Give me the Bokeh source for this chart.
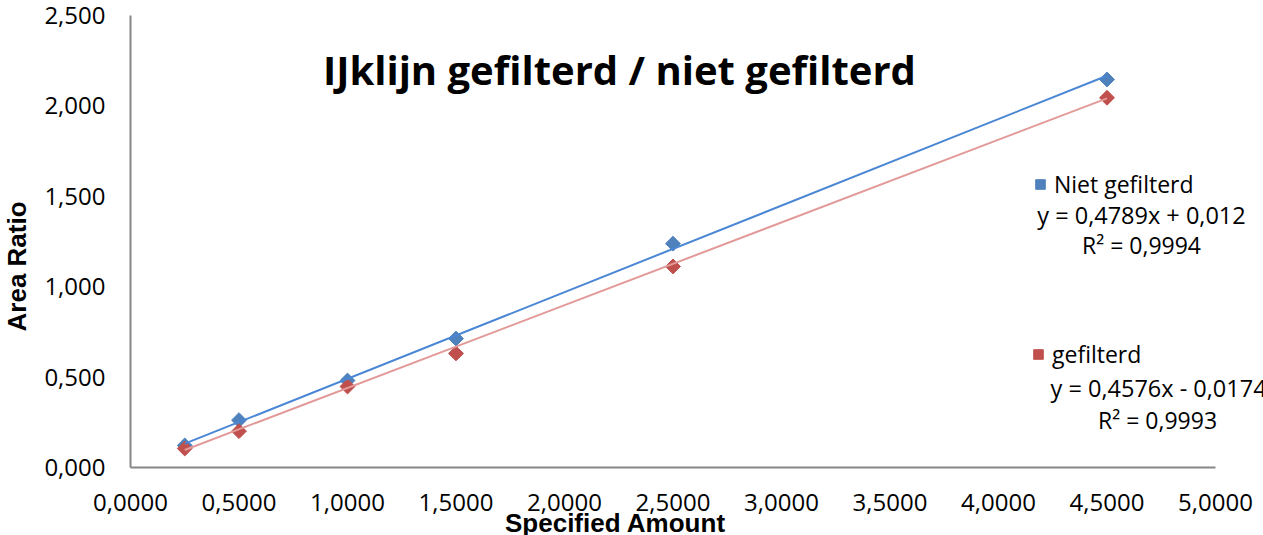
import math
from bokeh.plotting import figure
from bokeh.models import (FixedTicker, CustomJSTickFormatter, Label, Legend,
                          LegendItem, Range1d)
from bokeh.embed import file_html
from bokeh.resources import INLINE

# ---- data ----
amount = [0.25, 0.5, 1.0, 1.5, 2.5, 4.5]
niet_gefilterd = [0.122, 0.262, 0.481, 0.713, 1.238, 2.146]
gefilterd = [0.105, 0.201, 0.448, 0.631, 1.112, 2.045]

series_names = ["Niet gefilterd", "gefilterd"]
slopes = [0.4789, 0.4576]
intercepts = [0.012, -0.0174]
eq_texts = ["y = 0,4789x + 0,012", "y = 0,4576x - 0,0174"]
r2_texts = ["R² = 0,9994", "R² = 0,9993"]

x_ticks = [0.0, 0.5, 1.0, 1.5, 2.0, 2.5, 3.0, 3.5, 4.0, 4.5, 5.0]
y_ticks = [0.0, 0.5, 1.0, 1.5, 2.0, 2.5]

title_text = "IJklijn gefilterd / niet gefilterd"
x_title = "Specified Amount"
y_title = "Area Ratio"

marker_colors = ["#4F81BD", "#C0504D"]
line_colors = ["#4A86D4", "#E29A99"]
FONT = "Open Sans"

W, H = 1263, 535
X0_PX, Y0_PX = 130, 467   # pixel position of the data origin
PX_X = 217.0              # pixels per x unit
PX_Y = 180.8              # pixels per y unit

p = figure(width=W, height=H,
           x_range=Range1d(-X0_PX / PX_X, (W - X0_PX) / PX_X),
           y_range=Range1d(-(H - Y0_PX) / PX_Y, Y0_PX / PX_Y),
           output_backend="svg", toolbar_location=None,
           min_border_left=0, min_border_right=0, min_border_top=0,
           min_border_bottom=0)
p.outline_line_color = None
p.xgrid.visible = False
p.ygrid.visible = False
p.background_fill_color = "white"
p.border_fill_color = "white"

for ax, ticks, nd, bnds in ((p.xaxis[0], x_ticks, 4, (0, 5)),
                            (p.yaxis[0], y_ticks, 3, (0, 2.5))):
    ax.ticker = FixedTicker(ticks=ticks)
    ax.formatter = CustomJSTickFormatter(
        code="return tick.toFixed(%d).replace('.', ',');" % nd)
    ax.bounds = bnds
    ax.fixed_location = 0
    ax.axis_line_color = "#868686"
    ax.axis_line_width = 2
    ax.major_tick_line_color = None
    ax.minor_tick_line_color = None
    ax.major_tick_out = 0
    ax.major_tick_in = 0
    ax.major_label_text_font = FONT
    ax.major_label_text_font_size = "24px"
    ax.major_label_text_color = "black"
p.xaxis[0].major_label_standoff = 26
p.yaxis[0].major_label_standoff = 25

all_y = [niet_gefilterd, gefilterd]
x_fit = [min(amount), max(amount)]
scatters = []
for i in range(2):
    r = p.scatter(amount, all_y[i], marker="square", size=10.5, angle=math.pi / 4,
                  fill_color=marker_colors[i], line_color=marker_colors[i])
    scatters.append(r)
for i in range(2):
    y_fit = [slopes[i] * xv + intercepts[i] for xv in x_fit]
    p.line(x_fit, y_fit, line_color=line_colors[i], line_width=2)

# legends (one per series, as in the reference)
leg_locs = [(1028, 335), (1026, 165)]
for i in range(2):
    leg = Legend(items=[LegendItem(label=series_names[i], renderers=[scatters[i]])],
                 location=leg_locs[i], border_line_color=None,
                 background_fill_alpha=0, padding=0, margin=0,
                 glyph_width=24, glyph_height=24, label_standoff=2,
                 label_text_font=FONT, label_text_font_size="23px",
                 label_text_color="black")
    p.add_layout(leg)

# trendline equations
eq_pos = [(4.659, 1.399, "center"), (4.240, 0.437, "left")]
r2_pos = [(4.659, 1.228), (4.733, 0.265)]
for i in range(2):
    x0, y0, al = eq_pos[i]
    p.add_layout(Label(x=x0, y=y0, text=eq_texts[i], text_align=al,
                       text_baseline="middle", text_font=FONT,
                       text_font_size="23.5px", text_color="black"))
    p.add_layout(Label(x=r2_pos[i][0], y=r2_pos[i][1], text=r2_texts[i],
                       text_align="center", text_baseline="middle",
                       text_font=FONT, text_font_size="23px", text_color="black"))

# chart title inside plot
p.add_layout(Label(x=2.253, y=2.2, text=title_text, text_align="center",
                   text_baseline="middle", text_font=FONT, text_font_style="bold",
                   text_font_size="40px", text_color="black"))

# axis titles
p.add_layout(Label(x=2.235, y=-0.305, text=x_title, text_align="center",
                   text_baseline="middle", text_font="Liberation Sans",
                   text_font_style="bold", text_font_size="26px",
                   text_color="black"))
p.add_layout(Label(x=-0.521, y=1.112, text=y_title, text_align="center",
                   text_baseline="middle", text_font="Liberation Sans",
                   text_font_style="bold", text_font_size="26px",
                   text_color="black", angle=math.pi / 2))

open("out.html", "w").write(file_html(p, INLINE))
